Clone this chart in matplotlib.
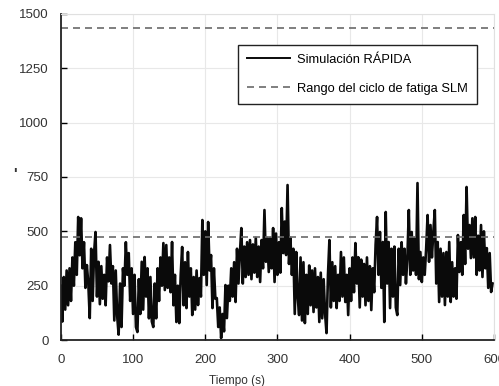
import matplotlib as mpl

mpl.use("Agg")
import matplotlib.pyplot as plt
import numpy as np

# time series, one sample every 2 s
t_step = 2
signal = [
    250, 85, 290, 140, 320,
    160, 330, 180, 380, 250,
    450, 300, 566, 390, 560,
    330, 450, 240, 345, 260,
    101, 420, 180, 400, 497,
    200, 360, 165, 340, 190,
    300, 160, 380, 270, 437,
    260, 340, 90, 320, 110,
    25, 260, 60, 330, 250,
    450, 300, 400, 180, 330,
    120, 300, 60, 37, 280,
    120, 360, 140, 382, 200,
    330, 100, 290, 85, 60,
    260, 100, 330, 180, 380,
    250, 446, 230, 437, 240,
    380, 220, 451, 160, 300,
    83, 250, 78, 300, 428,
    160, 358, 147, 405, 200,
    330, 115, 290, 140, 320,
    161, 285, 200, 552, 300,
    500, 253, 543, 320, 391,
    147, 330, 190, 193, 60,
    150, 9, 120, 40, 253,
    101, 250, 180, 330, 200,
    358, 175, 420, 260, 400,
    515, 260, 430, 290, 450,
    300, 460, 280, 440, 310,
    470, 290, 430, 267, 460,
    330, 598, 360, 470, 313,
    470, 330, 515, 267, 490,
    300, 450, 310, 607, 400,
    545, 391, 713, 350, 470,
    300, 420, 120, 405, 200,
    115, 380, 90, 358, 78,
    300, 120, 343, 160, 320,
    129, 330, 150, 290, 83,
    310, 100, 280, 120, 32,
    300, 460, 150, 358, 180,
    340, 147, 300, 180, 405,
    200, 380, 175, 300, 115,
    330, 180, 380, 220, 446,
    260, 381, 150, 370, 200,
    350, 160, 380, 180, 340,
    138, 330, 220, 440, 566,
    300, 497, 240, 451, 83,
    589, 260, 451, 147, 420,
    200, 430, 150, 115, 420,
    253, 450, 300, 420, 260,
    380, 598, 300, 497, 320,
    470, 300, 722, 280, 405,
    267, 380, 300, 420, 575,
    360, 529, 380, 500, 598,
    260, 451, 175, 420, 200,
    400, 161, 405, 200, 451,
    175, 358, 200, 330, 190,
    483, 313, 450, 300, 575,
    350, 704, 420, 529, 377,
    560, 380, 566, 300, 480,
    320, 529, 290, 500, 330,
    423, 240, 400, 221, 260,
]
time = np.arange(len(signal)) * t_step

fatigue_range = [475, 1435]

xticks = [0, 100, 200, 300, 400, 500, 600]
yticks = [0, 250, 500, 750, 1000, 1250, 1500]

plt.rcParams["font.family"] = ["Liberation Sans", "DejaVu Sans"]

fig = plt.figure(figsize=(4.99, 3.86), dpi=100)
ax = fig.add_axes([0.122, 0.119, 0.868, 0.845])

ax.plot(time, signal, color="#0a0a0a", lw=1.9, label="Simulación RÁPIDA")
for i, lvl in enumerate(fatigue_range):
    ax.axhline(lvl, color="#6a6a6a", lw=1.2, dashes=(4.2, 3),
               label="Rango del ciclo de fatiga SLM" if i == 0 else None)

ax.set_xlim(0, 600)
ax.set_ylim(0, 1500)
ax.set_xticks(xticks)
ax.set_yticks(yticks)
ax.grid(True, color="#e8e8e8", lw=0.8)
ax.set_axisbelow(True)
ax.tick_params(direction="in", length=4, width=1, labelsize=9.5,
               labelcolor="#333333")
ax.tick_params(axis="y", pad=9)
ax.tick_params(axis="x", pad=10)

for side in ("left", "bottom"):
    ax.spines[side].set_color("#222222")
    ax.spines[side].set_linewidth(1.3)
for side in ("top", "right"):
    ax.spines[side].set_color("#e0e0e0")
    ax.spines[side].set_linewidth(0.8)

leg = ax.legend(loc="upper right", bbox_to_anchor=(0.961, 0.905),
                borderaxespad=0, fontsize=9.3, handlelength=3.3,
                labelspacing=1.3, fancybox=False, framealpha=1,
                edgecolor="#222222", borderpad=0.7, handletextpad=0.6)
leg.get_frame().set_linewidth(1.0)
leg.get_lines()[0].set_linewidth(1.4)

fig.text(237 / 499, 1 - 381 / 386, "Tiempo (s)", ha="center", va="center",
         fontsize=8.5, color="#333333")
fig.text(15 / 499, 1 - 174 / 386, "'", ha="center", va="center",
         fontsize=11, fontweight="bold", color="#333333")

fig.savefig("out.png", dpi=100)
